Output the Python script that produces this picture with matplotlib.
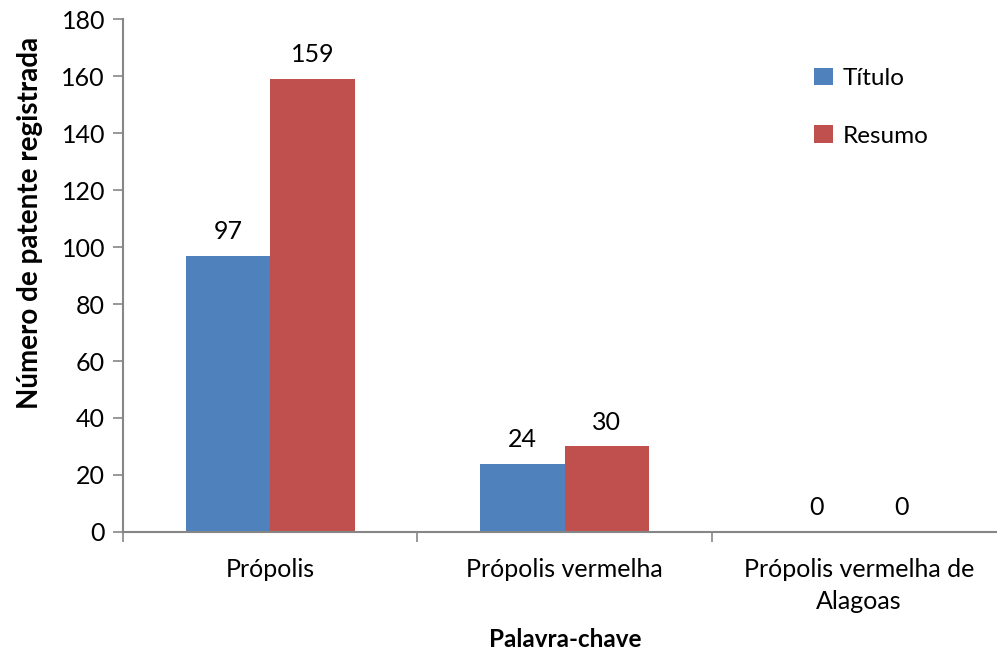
import numpy as np
import matplotlib.pyplot as plt

plt.rcParams['font.family'] = ['Lato', 'DejaVu Sans']

categorias = ['Própolis', 'Própolis vermelha', 'Própolis vermelha de\nAlagoas']
titulo = [97, 24, 0]
resumo = [159, 30, 0]

cor_titulo = '#4F81BD'
cor_resumo = '#C0504D'
cor_eixo = '#868686'

fig = plt.figure(figsize=(9.97, 6.53), dpi=100)
ax = fig.add_axes([0.1234, 0.1853, 0.8856, 0.7856])

x = np.arange(len(categorias))
w = 0.287
b1 = ax.bar(x - w / 2, titulo, w, color=cor_titulo, label='Título')
b2 = ax.bar(x + w / 2, resumo, w, color=cor_resumo, label='Resumo')

# rótulos de valor acima das barras
for barras in (b1, b2):
    for r in barras:
        ax.annotate(f'{int(r.get_height())}',
                    (r.get_x() + r.get_width() / 2, r.get_height()),
                    xytext=(0, 9), textcoords='offset points',
                    ha='center', va='bottom', fontsize=18)

ax.set_xlim(-0.5, len(categorias) - 0.5)
ax.set_ylim(0, 180)
ax.set_yticks(range(0, 181, 20))
ax.tick_params(axis='y', labelsize=18, length=7, width=1.2, color=cor_eixo, pad=6)

# ticks do eixo x nos limites das categorias
ax.set_xticks(np.arange(len(categorias) + 1) - 0.5)
ax.set_xticklabels([])
ax.set_xticks(x, categorias, minor=True)
ax.tick_params(axis='x', which='major', length=7, width=1.2, color=cor_eixo)
ax.tick_params(axis='x', which='minor', length=0, labelsize=18, pad=19)
for t in ax.get_xticklabels(minor=True):
    t.set_linespacing(1.45)

for s in ('top', 'right'):
    ax.spines[s].set_visible(False)
for s in ('left', 'bottom'):
    ax.spines[s].set_color(cor_eixo)
    ax.spines[s].set_linewidth(1.5)

fig.text(0.03, 0.658, 'Número de patente registrada', rotation=90,
         ha='center', va='center', fontsize=20, fontweight='bold')
fig.text(0.5667, 0.02, 'Palavra-chave', ha='center', va='center',
         fontsize=17.5, fontweight='bold')

fig.legend(loc='upper left', bbox_to_anchor=(0.795, 0.93), frameon=False,
           fontsize=17.5, handlelength=0.75, handleheight=0.75,
           handletextpad=0.4, labelspacing=1.5)

fig.savefig('out.png', dpi=100)
